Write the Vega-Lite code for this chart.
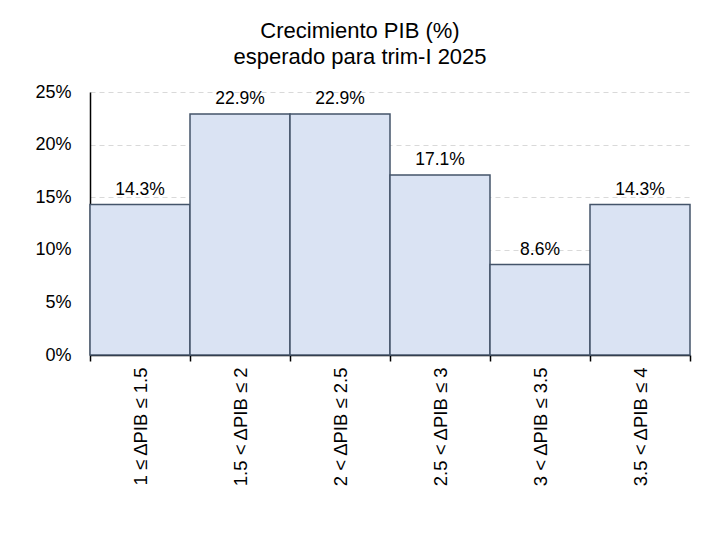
{
  "$schema": "https://vega.github.io/schema/vega-lite/v6.json",
  "width": 600,
  "height": 263,
  "autosize": {"type": "none"},
  "padding": {"left": 90, "top": 92, "right": 18, "bottom": 184},
  "background": "white",
  "config": {
    "view": {"stroke": null},
    "font": "Liberation Sans"
  },
  "title": {
    "text": ["Crecimiento PIB (%)", "esperado para trim-I 2025"],
    "font": "Liberation Sans",
    "fontSize": 22,
    "fontWeight": "normal",
    "color": "#000000",
    "anchor": "middle",
    "dx": -30,
    "offset": 14,
    "lineHeight": 26
  },
  "data": {
    "values": [
      {"rango": "1 ≤ ΔPIB ≤ 1.5", "pct": 0.143},
      {"rango": "1.5 < ΔPIB ≤ 2", "pct": 0.229},
      {"rango": "2 < ΔPIB ≤ 2.5", "pct": 0.229},
      {"rango": "2.5 < ΔPIB ≤ 3", "pct": 0.171},
      {"rango": "3 < ΔPIB ≤ 3.5", "pct": 0.086},
      {"rango": "3.5 < ΔPIB ≤ 4", "pct": 0.143}
    ]
  },
  "encoding": {
    "x": {
      "field": "rango",
      "type": "nominal",
      "sort": null,
      "scale": {"paddingInner": 0, "paddingOuter": 0},
      "axis": {
        "title": null,
        "labelAngle": -90,
        "labelAlign": "right",
        "labelBaseline": "middle",
        "labelFontSize": 18.5,
        "labelColor": "#000000",
        "labelPadding": 6,
        "tickBand": "extent",
        "tickColor": "#000000",
        "tickSize": 6,
        "tickWidth": 1.5,
        "domainColor": "#000000",
        "domainWidth": 1.5,
        "grid": false
      }
    },
    "y": {
      "field": "pct",
      "type": "quantitative",
      "scale": {"domain": [0, 0.25], "nice": false},
      "axis": {
        "title": null,
        "values": [0, 0.05, 0.1, 0.15, 0.2, 0.25],
        "format": ".0%",
        "labelFontSize": 18,
        "labelColor": "#000000",
        "labelPadding": 19,
        "ticks": false,
        "domainColor": "#000000",
        "domainWidth": 1.5,
        "grid": true,
        "gridColor": "#D9D9D9",
        "gridDash": [5, 4],
        "gridWidth": 1
      }
    }
  },
  "layer": [
    {
      "mark": {"type": "bar", "fill": "#DAE3F3", "stroke": "#44546A", "strokeWidth": 1.5}
    },
    {
      "mark": {"type": "text", "baseline": "alphabetic", "dy": -10, "fontSize": 17.5, "color": "#000000", "font": "Liberation Sans"},
      "encoding": {
        "text": {"field": "pct", "type": "quantitative", "format": ".1%"}
      }
    }
  ]
}
